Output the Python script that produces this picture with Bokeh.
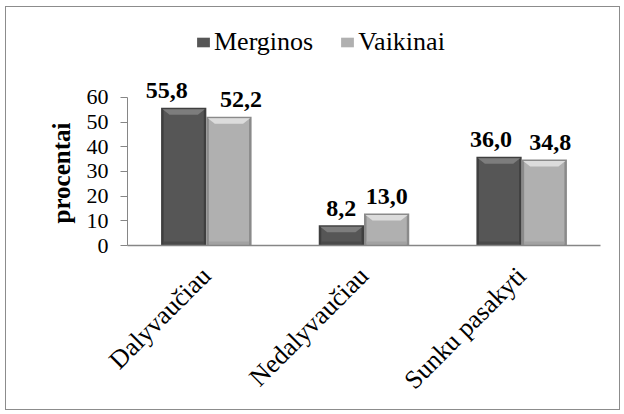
from bokeh.plotting import figure
from bokeh.models import FactorRange, Range1d, Legend, LegendItem, ColumnDataSource, FixedTicker, Title
from bokeh.embed import file_html
from bokeh.resources import INLINE
from math import pi

# ---- data ----
categories = ["Dalyvaučiau", "Nedalyvaučiau", "Sunku pasakyti"]
series_names = ["Merginos", "Vaikinai"]
merginos = [55.8, 8.2, 36.0]
vaikinai = [52.2, 13.0, 34.8]
value_labels_m = ["55,8", "8,2", "36,0"]
value_labels_v = ["52,2", "13,0", "34,8"]
y_ticks = [0, 10, 20, 30, 40, 50, 60]
y_title = "procentai"
# small horizontal nudges (px) of the value labels, as placed in the original
label_nudge_m = [-17, 0, -8]
label_nudge_v = [12, 0, 6]

FONT = "Liberation Serif"
FONT_REG = "Times New Roman"

# frame: 0 at bottom, 60 drawn ~148 px higher; extra headroom holds labels and legend
Y_TOP = 94.0
p = figure(x_range=FactorRange(*categories), y_range=Range1d(0, Y_TOP),
           width=615, height=404, output_backend="svg", toolbar_location=None,
           min_border_left=121, min_border_right=21, min_border_top=6, min_border_bottom=166)
p.styles = {"border": "1px solid #8c8c8c", "margin-top": "6px", "margin-left": "5px"}
p.outline_line_color = None
p.xgrid.grid_line_color = None
p.ygrid.grid_line_color = None
p.background_fill_color = "white"
p.border_fill_color = "white"

# pixel sizes in data units
PX_X = 1.0 / 157.7
PX_Y = 1.0 / 2.467
W = 0.287

styles = {
    "Merginos": dict(edge="#3f3f3f", body="#565656", bevel="#7d7d7d", bottom="#4a4a4a"),
    "Vaikinai": dict(edge="#8a8a8a", body="#b0b0b0", bevel="#dcdcdc", bottom="#a2a2a2"),
}

body_renderers = []
for name, vals, labels, nudge, shift in [
    ("Merginos", merginos, value_labels_m, label_nudge_m, -W / 2),
    ("Vaikinai", vaikinai, value_labels_v, label_nudge_v, W / 2),
]:
    st = styles[name]
    xs = [i + 0.5 + shift for i in range(len(categories))]
    src = ColumnDataSource(dict(x=xs, top=vals, label=labels, nudge=nudge,
                                inner_top=[v - 1.5 * PX_Y for v in vals]))
    p.vbar(x="x", top="top", bottom=0, width=W, source=src,
           fill_color=st["edge"], line_color=None)
    body = p.vbar(x="x", top="inner_top", bottom=2 * PX_Y, width=W - 5 * PX_X, source=src,
                  fill_color=st["body"], line_color=None)
    body_renderers.append(body)
    # bottom bevel strip
    p.vbar(x="x", top=4 * PX_Y, bottom=0.5 * PX_Y, width=W - 5 * PX_X, source=src,
           fill_color=st["bottom"], line_color=None)
    # top bevel trapezoids
    xs_p, ys_p = [], []
    for x, v in zip(xs, vals):
        l, r = x - W / 2 + 1.5 * PX_X, x + W / 2 - 1.5 * PX_X
        d = 7 * PX_X
        h = 7 * PX_Y
        xs_p.append([l, r, r - d, l + d])
        ys_p.append([v - 1.5 * PX_Y, v - 1.5 * PX_Y, v - h, v - h])
    p.patches(xs_p, ys_p, fill_color=st["bevel"], line_color=None)
    p.text(x="x", y="top", text="label", source=src, x_offset="nudge", y_offset=-17,
           text_align="center", text_baseline="alphabetic",
           text_font=FONT, text_font_size="24px", text_font_style="bold", text_color="black")

# axes
p.yaxis.ticker = FixedTicker(ticks=y_ticks)
p.yaxis.bounds = (0, 60)
p.yaxis.major_label_text_font = FONT_REG
p.yaxis.major_label_text_font_size = "22px"
p.yaxis.major_label_text_color = "black"
p.yaxis.major_label_standoff = 12
p.yaxis.major_tick_out = 7
p.yaxis.major_tick_in = 0
p.yaxis.minor_tick_line_color = None
p.yaxis.axis_line_color = "#868686"
p.yaxis.major_tick_line_color = "#868686"

# y title, aligned with the 0-60 part of the axis
ytitle = Title(text=y_title, align="left", offset=22, standoff=18,
               text_font=FONT, text_font_size="25px", text_font_style="bold", text_color="black")
p.add_layout(ytitle, "left")

p.xaxis.major_label_orientation = pi / 4
p.xaxis.major_label_text_font = FONT_REG
p.xaxis.major_label_text_font_size = "26px"
p.xaxis.major_label_text_color = "black"
p.xaxis.major_label_standoff = 20
p.xaxis.major_tick_line_color = None
p.xaxis.axis_line_color = "#868686"
p.xaxis.axis_line_width = 1.5

legend = Legend(items=[LegendItem(label=n, renderers=[r]) for n, r in zip(series_names, body_renderers)],
                orientation="horizontal", location=(68, 188),
                glyph_width=16, glyph_height=12, label_standoff=3, spacing=26,
                padding=0, margin=0, border_line_color=None, background_fill_alpha=0)
legend.label_text_font = FONT_REG
legend.label_text_font_size = "26px"
legend.label_text_color = "black"
p.add_layout(legend, "center")

open("out.html", "w").write(file_html(p, INLINE))
